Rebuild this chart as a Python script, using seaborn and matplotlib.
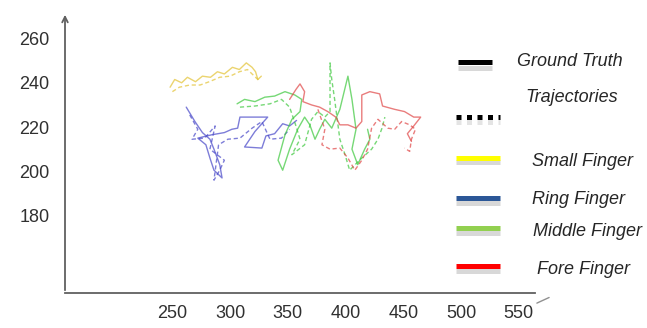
import matplotlib
matplotlib.use('Agg')
import matplotlib.pyplot as plt
from matplotlib.lines import Line2D
import pandas as pd
import seaborn as sns

x_ticks = [250, 300, 350, 400, 450, 500, 550]
y_ticks = [180, 200, 220, 240, 260]

# small finger (yellow)
small_gt_x = [248, 252, 258, 263, 270, 276, 283, 289, 295, 302, 308, 314, 319, 322, 324, 327]
small_gt_y = [238, 241.5, 240, 242.5, 240.5, 243, 242.5, 245, 244, 247, 246, 249, 247, 245, 241.5, 243]
small_tr_x = [250, 256, 265, 274, 282, 291, 300, 308, 315, 321, 326]
small_tr_y = [236, 238, 239, 239, 240.5, 242.5, 243, 245, 246, 243, 240.5]

# ring finger (blue)
ring_gt_x = [262, 269.5, 276, 282.5, 286, 291, 293, 286, 282.5, 279, 272, 284, 295, 301.5, 306.5,
             308.5, 332.5, 321.5, 312.5, 327.5, 331, 338.5, 345.5, 351.5, 357.5]
ring_gt_y = [229, 222.5, 217.5, 214.5, 210, 203, 197, 200.5, 206, 212, 215, 216.5, 217.5, 219, 219.5,
             224.5, 224.5, 218, 211, 210.5, 216, 217, 221.5, 220.5, 223]
ring_tr_x = [265, 272, 267, 278, 287, 282.5, 295, 291, 286, 290, 298, 308.5, 319, 327.5, 334.5, 344.5, 351.5]
ring_tr_y = [225.5, 219, 214.5, 215, 220.5, 210, 205, 200.5, 196, 212, 214.5, 215, 219.5, 222.5, 214.5, 215, 219]

# middle finger (green)
middle_gt_x = [306, 312.5, 321.5, 330, 338.5, 347.5, 356, 362, 360.5, 353.5, 347.5, 341.5, 345.5, 351.5, 358.5,
               364.5, 369, 373.5, 377.5, 382, 388, 395, 402, 405.5, 409, 405.5, 410.5, 416.5, 421, 419]
middle_gt_y = [230.5, 232.5, 231.5, 233.5, 234, 236, 234.5, 232.5, 227, 223.5, 216.5, 205, 200.5, 210, 219,
               224.5, 221, 214.5, 219, 223.5, 219.5, 228, 243, 232.5, 219, 210, 203, 210, 214.5, 219]
middle_tr_x = [308.5, 321.5, 334.5, 344.5, 351.5, 357, 360.5, 353.5, 364.5, 370.5, 376, 382, 386.5, 386.5, 386.5,
               388, 390.5, 395, 399.5, 403.5, 412, 422.5, 428, 431.5, 434]
middle_tr_y = [229, 229.5, 230.5, 232.5, 229, 220.5, 214.5, 207.5, 212, 223.5, 227, 224.5, 227, 237, 249,
               241.5, 232.5, 214.5, 207.5, 200.5, 205, 210, 214.5, 219.5, 224.5]

# fore finger (red)
fore_gt_x = [351.5, 357, 360.5, 364.5, 363, 370.5, 377.5, 384.5, 391.5, 395, 402, 409, 414, 414, 414,
             421, 429.5, 432, 442.5, 451, 459, 465, 459, 453.5, 457]
fore_gt_y = [232.5, 237, 239.5, 236, 231.5, 230, 229, 227, 224.5, 221, 221, 219.5, 222.5, 229, 234.5,
             236, 235, 229.5, 228, 227, 224.5, 224.5, 220.5, 217, 213.5]
fore_tr_x = [376, 382, 379.5, 386.5, 395, 402, 408, 414, 419, 422.5, 428, 436.5, 442.5, 448.5, 455.5,
             460.5, 457, 455.5, 451]
fore_tr_y = [228, 219, 212, 210, 210.5, 206, 200.5, 205, 210, 219.5, 223.5, 219.5, 219, 222.5, 221,
             219, 214.5, 209, 210.5]

fingers = ['Small Finger', 'Ring Finger', 'Middle Finger', 'Fore Finger']
legend_colors = ['#ffff00', '#2b5797', '#92d050', '#ff0000']
line_colors = ['#e3c232', '#4646c8', '#3cc83c', '#e04646']

paths = {
    'Small Finger': (small_gt_x, small_gt_y, small_tr_x, small_tr_y),
    'Ring Finger': (ring_gt_x, ring_gt_y, ring_tr_x, ring_tr_y),
    'Middle Finger': (middle_gt_x, middle_gt_y, middle_tr_x, middle_tr_y),
    'Fore Finger': (fore_gt_x, fore_gt_y, fore_tr_x, fore_tr_y),
}

rows = []
for f in fingers:
    gx, gy, tx, ty = paths[f]
    for i, (a, b) in enumerate(zip(gx, gy)):
        rows.append((f, 'gt', i, a, b))
    for i, (a, b) in enumerate(zip(tx, ty)):
        rows.append((f, 'traj', i, a, b))
df = pd.DataFrame(rows, columns=['finger', 'kind', 'order', 'x', 'y'])

sns.set_style('white')
plt.rcParams['font.family'] = ['Liberation Sans', 'DejaVu Sans']

fig = plt.figure(figsize=(6.47, 3.28), dpi=100)
ax = fig.add_axes([65 / 647, 1 - 293 / 328, 470 / 647, 281 / 328])

sns.lineplot(data=df, x='x', y='y', hue='finger', style='kind', units='finger',
             estimator=None, sort=False, palette=dict(zip(fingers, line_colors)),
             dashes={'gt': '', 'traj': (3, 2)}, lw=1.0, alpha=0.7, legend=False, ax=ax)

ax.set_xlim(157, 564)
ax.set_ylim(145, 272)
ax.set_xticks(x_ticks)
ax.set_yticks(y_ticks)
ax.set_xlabel('')
ax.set_ylabel('')
for s in ['top', 'right', 'left']:
    ax.spines[s].set_visible(False)
ax.spines['bottom'].set_color('#606060')
ax.spines['bottom'].set_linewidth(1.3)
ax.annotate('', xy=(0, 1.0), xytext=(0, 0), xycoords='axes fraction',
            arrowprops=dict(arrowstyle='->', lw=1.3, color='#606060'))
ax.plot([1.004, 1.03], [-0.036, -0.016], transform=ax.transAxes, color='#909090',
        lw=1.0, clip_on=False)
ax.tick_params(axis='both', direction='in', length=7, width=1.1, color='#707070',
               labelsize=13, labelcolor='#303030')
ax.tick_params(axis='y', pad=11)
ax.tick_params(axis='x', pad=9)

# legend drawn by hand
leg_x0, leg_x1 = 456 / 647, 500 / 647
def fy(py):
    return 1 - py / 328

fig.add_artist(Line2D([458 / 647, 492 / 647], [fy(67.5)] * 2, color='#d8d8d8', lw=3.6,
                      solid_capstyle='butt'))
fig.add_artist(Line2D([458 / 647, 492 / 647], [fy(62)] * 2, color='black', lw=3.6,
                      solid_capstyle='butt'))
fig.add_artist(Line2D([leg_x0, leg_x1], [fy(122)] * 2, color='#e4e4e4', lw=3.6,
                      ls=(0, (1, 1.1)), dash_capstyle='butt'))
fig.add_artist(Line2D([leg_x0, leg_x1], [fy(116.5)] * 2, color='black', lw=3.6,
                      ls=(0, (1, 1.1)), dash_capstyle='butt'))
fig.text(517 / 647, fy(61), 'Ground Truth', style='italic', fontsize=13, va='center')
fig.text(525 / 647, fy(98), 'Trajectories', style='italic', fontsize=13, va='center')

leg_y = [157.5, 197.5, 227.5, 265.5]
txt_x = [532, 532, 533, 537]
txt_y = [161.5, 199, 232, 270]
for f, c, ly, tx, ty in zip(fingers, legend_colors, leg_y, txt_x, txt_y):
    fig.add_artist(Line2D([leg_x0, leg_x1], [fy(ly + 5)] * 2, color='#d8d8d8', lw=3.6,
                          solid_capstyle='butt'))
    fig.add_artist(Line2D([leg_x0, leg_x1], [fy(ly)] * 2, color=c, lw=3.6,
                          solid_capstyle='butt'))
    fig.text(tx / 647, fy(ty), f, style='italic', fontsize=13, va='center')

fig.savefig('out.png', dpi=100)
